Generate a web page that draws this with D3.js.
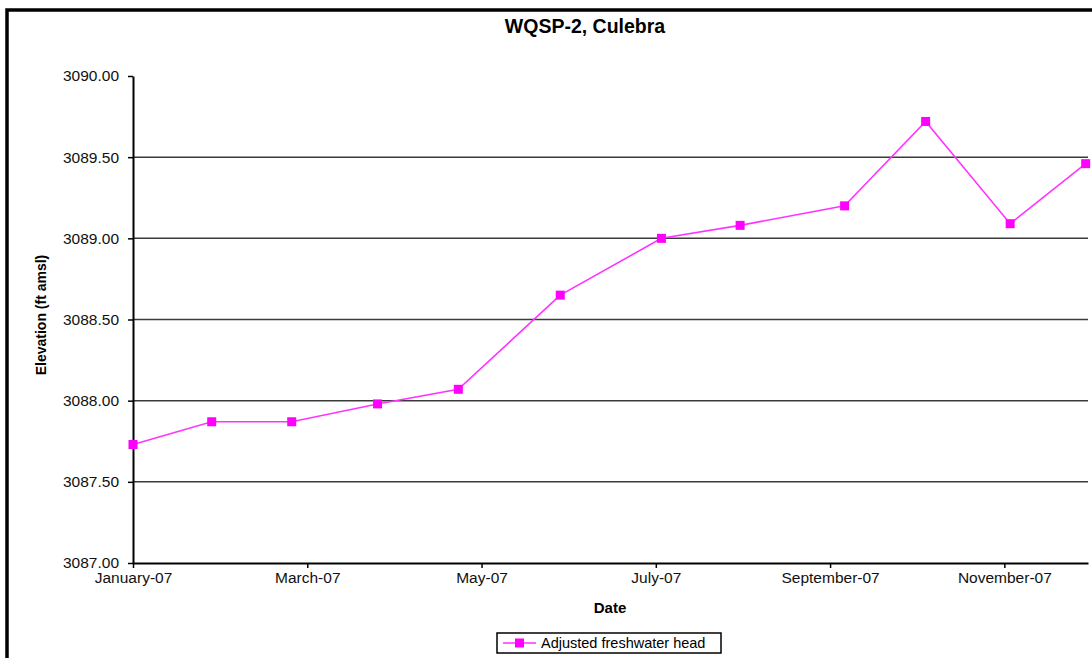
<!DOCTYPE html>
<html>
<head>
<meta charset="utf-8">
<script src="https://cdn.jsdelivr.net/npm/d3@7"></script>
<style>
  body { margin: 0; background: #fff; }
  svg { display: block; font-family: "Liberation Sans", Arial, sans-serif; }
  .tick text { fill: #111; }
</style>
</head>
<body>
<script>
// measured dates and adjusted freshwater head (ft amsl)
var dates = ["2007-01-01", "2007-01-29", "2007-02-24", "2007-03-26", "2007-04-23", "2007-05-29",
             "2007-07-03", "2007-07-31", "2007-09-06", "2007-10-04", "2007-11-03", "2007-11-29"];
var heads = [3087.73, 3087.87, 3087.87, 3087.98, 3088.07, 3088.65,
             3089.00, 3089.08, 3089.20, 3089.72, 3089.09, 3089.46];
var yTicks = [3087.0, 3087.5, 3088.0, 3088.5, 3089.0, 3089.5, 3090.0];
var xTicks = ["2007-01-01", "2007-03-01", "2007-05-01", "2007-07-01", "2007-09-01", "2007-11-01"];

var width = 1092,
    height = 658;

var parse = d3.timeParse("%Y-%m-%d");
var start = parse("2007-01-01");

// position along the axis in months (each month gets equal width, like the Excel date axis)
function monthPos(date) {
    var m0 = d3.timeMonth.floor(date);
    var m1 = d3.timeMonth.offset(m0, 1);
    return d3.timeMonth.count(start, m0) + (date - m0) / (m1 - m0);
}

var data = dates.map(function(d, i) { return { date: parse(d), value: heads[i] }; });

var svg = d3.select("body")
    .append("svg")
    .attr("width", width)
    .attr("height", height);

// chart frame (cut off at right/bottom like the reference)
svg.append("rect")
    .attr("x", 7).attr("y", 10)
    .attr("width", 1200).attr("height", 800)
    .attr("fill", "#fff")
    .attr("stroke", "#000")
    .attr("stroke-width", 3.5);

var x = d3.scaleLinear()
    .domain([0, 10.96])
    .range([133, 1088]);

var y = d3.scaleLinear()
    .domain([3087, 3090])
    .range([563, 76]);

// gridlines
svg.append("g")
    .selectAll("line")
    .data(yTicks.filter(function(d) { return d > 3087 && d < 3090; }))
    .enter()
    .append("line")
    .attr("x1", x.range()[0])
    .attr("x2", x.range()[1])
    .attr("y1", function(d) { return y(d); })
    .attr("y2", function(d) { return y(d); })
    .attr("stroke", "#3a3a3a")
    .attr("stroke-width", 1.5);

// y axis
var yAxis = svg.append("g")
    .attr("transform", "translate(133,0)")
    .call(d3.axisLeft(y).tickValues(yTicks).tickFormat(d3.format(".2f")).tickSize(5).tickSizeOuter(0).tickPadding(9));
yAxis.selectAll("text").style("font-size", "15.5px");

// x axis
var fmt = d3.timeFormat("%B-%y");
var xAxis = svg.append("g")
    .attr("transform", "translate(0,563)")
    .call(d3.axisBottom(x)
        .tickValues(xTicks.map(function(d) { return monthPos(parse(d)); }))
        .tickFormat(function(m) { return fmt(d3.timeMonth.offset(start, Math.round(m))); })
        .tickSize(5).tickSizeOuter(0).tickPadding(4));
xAxis.selectAll("text").style("font-size", "15.5px");

svg.selectAll(".domain").attr("stroke", "#000").attr("stroke-width", 2);
svg.selectAll(".tick line").attr("stroke", "#000").attr("stroke-width", 1.5);

// series line
var line = d3.line()
    .x(function(d) { return x(monthPos(d.date)); })
    .y(function(d) { return y(d.value); });

svg.append("path")
    .datum(data)
    .attr("d", line)
    .attr("fill", "none")
    .attr("stroke", "#ff33ff")
    .attr("stroke-width", 1.6);

svg.selectAll(".marker")
    .data(data)
    .enter()
    .append("rect")
    .attr("class", "marker")
    .attr("x", function(d) { return x(monthPos(d.date)) - 4.5; })
    .attr("y", function(d) { return y(d.value) - 4.5; })
    .attr("width", 9)
    .attr("height", 9)
    .attr("fill", "#ff00ff");

// title and axis labels
svg.append("text")
    .attr("x", 585).attr("y", 33)
    .attr("text-anchor", "middle")
    .style("font-size", "19.5px")
    .style("font-weight", "bold")
    .text("WQSP-2, Culebra");

svg.append("text")
    .attr("transform", "translate(46,315) rotate(-90)")
    .attr("text-anchor", "middle")
    .style("font-size", "14px")
    .style("font-weight", "bold")
    .text("Elevation (ft amsl)");

svg.append("text")
    .attr("x", 610).attr("y", 613)
    .attr("text-anchor", "middle")
    .style("font-size", "15px")
    .style("font-weight", "bold")
    .text("Date");

// legend
var legend = svg.append("g").attr("transform", "translate(497,633)");
legend.append("rect")
    .attr("width", 224).attr("height", 20)
    .attr("fill", "#fff")
    .attr("stroke", "#000")
    .attr("stroke-width", 1.5);
legend.append("line")
    .attr("x1", 6).attr("x2", 39)
    .attr("y1", 10).attr("y2", 10)
    .attr("stroke", "#ff33ff")
    .attr("stroke-width", 1.6);
legend.append("rect")
    .attr("x", 18).attr("y", 5.5)
    .attr("width", 9).attr("height", 9)
    .attr("fill", "#ff00ff");
legend.append("text")
    .attr("x", 44).attr("y", 15)
    .style("font-size", "14.5px")
    .text("Adjusted freshwater head");
</script>
</body>
</html>
